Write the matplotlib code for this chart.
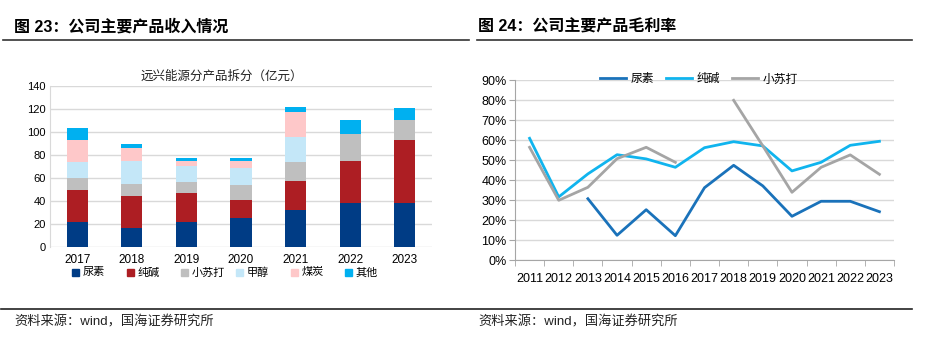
import matplotlib
matplotlib.use("Agg")
import matplotlib.pyplot as plt
import numpy as np
from matplotlib.lines import Line2D
from matplotlib.patches import Rectangle

plt.rcParams['font.family'] = ['Noto Sans CJK SC', 'DejaVu Sans']

# ---- data: left chart (亿元) ----
years_bar = ['2017', '2018', '2019', '2020', '2021', '2022', '2023']
urea_rev = [21.7, 16.8, 21.7, 24.9, 32.1, 37.9, 38.2]
soda_rev = [28.1, 27.2, 24.9, 16.2, 24.9, 36.7, 54.4]
xsd_rev = [10.1, 10.7, 9.5, 12.7, 16.8, 23.4, 17.6]
meth_rev = [14.1, 19.9, 14.2, 15.0, 21.4, 0.0, 0.0]
coal_rev = [18.9, 11.6, 4.6, 6.1, 22.2, 0.0, 0.0]
other_rev = [10.4, 2.9, 2.1, 2.1, 4.1, 11.9, 10.4]
bar_names = ['尿素', '纯碱', '小苏打', '甲醇', '煤炭', '其他']
bar_colors = ['#003C85', '#AD1E23', '#BFBFBF', '#C4E7F8', '#FEC8C9', '#00B0F0']
yticks_left = [0, 20, 40, 60, 80, 100, 120, 140]

# ---- data: right chart (毛利率 %) ----
years_line = ['2011', '2012', '2013', '2014', '2015', '2016', '2017',
              '2018', '2019', '2020', '2021', '2022', '2023']
urea_gm = [None, None, 30.8, 12.5, 25.3, 12.3, 36.3, 47.5, 37.2, 22.0, 29.5, 29.5, 24.3]
soda_gm = [61.0, 31.7, 43.2, 52.8, 50.7, 46.5, 56.3, 59.3, 57.2, 44.7, 49.0, 57.5, 59.5]
xsd_gm = [56.5, 30.0, 36.5, 50.8, 56.5, 49.0, None, 80.0, 57.2, 34.0, 46.5, 52.7, 43.0]
line_names = ['尿素', '纯碱', '小苏打']
line_colors = ['#1A72BA', '#10B4EE', '#A5A5A5']
yticks_right = [0, 10, 20, 30, 40, 50, 60, 70, 80, 90]

W, H = 941, 349
fig = plt.figure(figsize=(W / 100, H / 100), dpi=100)


def px(x0, y0, x1, y1):
    return [x0 / W, 1 - y1 / H, (x1 - x0) / W, (y1 - y0) / H]


num_font = ['Liberation Sans', 'DejaVu Sans']
mix_font = ['Liberation Sans', 'Noto Sans CJK SC', 'DejaVu Sans']

# ---- headers ----
fig.text(14 / W, 1 - 27 / H, '图 23：公司主要产品收入情况', fontsize=11.5, fontweight='bold',
         va='center', ha='left', family=mix_font)
fig.text(478 / W, 1 - 27 / H, '图 24：公司主要产品毛利率', fontsize=11.5, fontweight='bold',
         va='center', ha='left', family=mix_font)
fig.add_artist(Line2D([3 / W, 469 / W], [1 - 40 / H, 1 - 40 / H], color='#333333', lw=1.2))
fig.add_artist(Line2D([477 / W, 912 / W], [1 - 40 / H, 1 - 40 / H], color='#333333', lw=1.2))
fig.add_artist(Line2D([1 / W, 912 / W], [1 - 309 / H, 1 - 309 / H], color='#222222', lw=1.2))
fig.text(14 / W, 1 - 322 / H, '资料来源：wind，国海证券研究所', fontsize=9.5, va='center',
         ha='left', color='#222222', family=mix_font)
fig.text(478 / W, 1 - 322 / H, '资料来源：wind，国海证券研究所', fontsize=9.5, va='center',
         ha='left', color='#222222', family=mix_font)

# ---- left chart ----
ax = fig.add_axes(px(50, 85.7, 432, 247))
x = np.arange(len(years_bar))
bottom = np.zeros(len(years_bar))
series = [urea_rev, soda_rev, xsd_rev, meth_rev, coal_rev, other_rev]
for vals, c, n in zip(series, bar_colors, bar_names):
    v = np.array(vals)
    ax.bar(x, v, 0.39, bottom=bottom, color=c, label=n, zorder=3)
    bottom += v
ax.set_xlim(-0.5, len(years_bar) - 0.5)
ax.set_ylim(0, 140)
ax.set_yticks(yticks_left)
ax.set_yticklabels([str(t) for t in yticks_left], fontsize=8, family=num_font)
ax.set_xticks(x)
ax.set_xticklabels(years_bar, fontsize=8.5, family=num_font)
ax.tick_params(axis='both', length=0, pad=3)
ax.tick_params(axis='x', pad=5)
ax.grid(axis='y', color='#D9D9D9', lw=1, zorder=0)
for s in ['top', 'right', 'bottom']:
    ax.spines[s].set_visible(False)
ax.spines['left'].set_color('#D9D9D9')
ax.text(0.45, 1.06, '远兴能源分产品拆分（亿元）', transform=ax.transAxes, ha='center',
        va='center', fontsize=9, color='#222222')
# legend
leg_x = [72, 127, 181, 236, 291, 345]
for lx, c, n in zip(leg_x, bar_colors, bar_names):
    fig.add_artist(Rectangle((lx / W, 1 - 276 / H), 7 / W, 7 / H, color=c))
    fig.text((lx + 11) / W, 1 - 272.5 / H, n, fontsize=8, va='center', ha='left')

# ---- right chart ----
ax2 = fig.add_axes(px(515, 80.3, 894, 260.3))
xl = np.arange(len(years_line))
for vals, c, n in zip([urea_gm, soda_gm, xsd_gm], line_colors, line_names):
    v = np.array([np.nan if a is None else a for a in vals], dtype=float)
    ax2.plot(xl, v, color=c, lw=2, label=n, zorder=3)
ax2.set_xlim(-0.5, len(years_line) - 0.5)
ax2.set_ylim(0, 90)
ax2.set_yticks(yticks_right)
ax2.set_yticklabels([f'{t}%' for t in yticks_right], fontsize=9, family=num_font)
ax2.set_xticks(xl)
ax2.set_xticklabels(years_line, fontsize=9, family=num_font)
ax2.set_xticks(np.arange(-0.5, len(years_line)), minor=True)
ax2.tick_params(axis='x', which='major', length=0, pad=9)
ax2.tick_params(axis='x', which='minor', length=4, color='#A6A6A6')
ax2.tick_params(axis='y', length=4, color='#A6A6A6', pad=2)
ax2.grid(axis='y', color='#D9D9D9', lw=1, zorder=0)
for s in ['top', 'right']:
    ax2.spines[s].set_visible(False)
ax2.spines['left'].set_color('#A6A6A6')
ax2.spines['bottom'].set_color('#A6A6A6')
ax2.legend(loc='upper center', bbox_to_anchor=(0.485, 1.07), ncol=3, frameon=False,
           fontsize=8.5, handlelength=2.2, handletextpad=0.4, columnspacing=1.0,
           borderaxespad=0)

fig.savefig('out.png', dpi=100, facecolor='white')
